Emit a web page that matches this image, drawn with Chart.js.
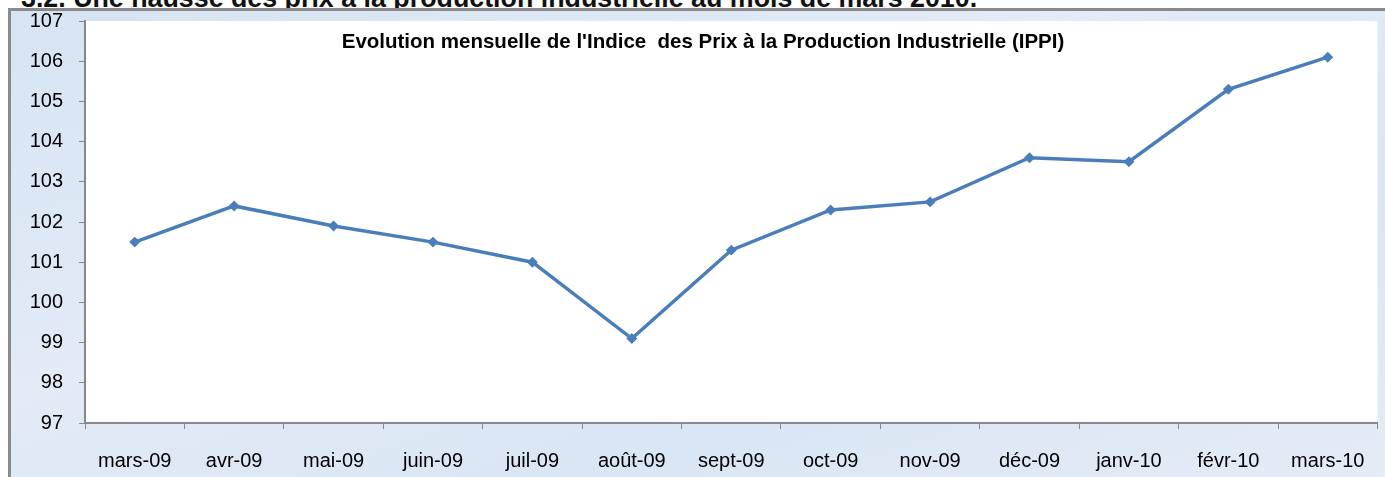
<!DOCTYPE html>
<html>
<head>
<meta charset="utf-8">
<script src="https://cdn.jsdelivr.net/npm/chart.js@4/dist/chart.umd.min.js"></script>
<style>
  html, body { margin: 0; padding: 0; background: #fff; overflow: hidden; }
  body { width: 1385px; height: 477px; position: relative; font-family: "Liberation Sans", Arial, sans-serif; }
  #heading { position: absolute; left: 21px; top: -15px; font-size: 26.8px; line-height: 26.5px; font-weight: bold; color: #111; white-space: nowrap; }
  #frame { position: absolute; left: 8px; top: 8px; width: 1374px; height: 466px;
    border-top: 3px solid #8a8a8a; border-left: 3px solid #8a8a8a;
    background: linear-gradient(160deg, #d6e4f3 0%, #e2ebf6 40%, #d9e6f3 70%, #e4ecf6 100%); }
  #wrap { position: absolute; left: 0; top: 0; width: 1374px; height: 466px; }
</style>
</head>
<body>
<div id="heading">3.2. Une hausse des prix à la production industrielle au mois de mars 2010.</div>
<div id="frame"><div id="wrap"><canvas id="app"></canvas></div></div>
<script>
const months = ['mars-09', 'avr-09', 'mai-09', 'juin-09', 'juil-09', 'août-09', 'sept-09',
  'oct-09', 'nov-09', 'déc-09', 'janv-10', 'févr-10', 'mars-10']
const ippi = [101.5, 102.4, 101.9, 101.5, 101.0, 99.1, 101.3, 102.3, 102.5, 103.6, 103.5, 105.3, 106.1]
const chartTitle = "Evolution mensuelle de l'Indice  des Prix à la Production Industrielle (IPPI)"
const yMin = 97
const yMax = 107

const plotBackground = {
  id: 'plotBackground',
  beforeDraw(chart) {
    const { ctx, chartArea: a } = chart
    ctx.save()
    ctx.fillStyle = '#fff'
    ctx.fillRect(a.left, a.top, a.right - a.left, a.bottom - a.top)
    ctx.restore()
  },
  afterDatasetsDraw(chart) {
    const { ctx, chartArea: a } = chart
    ctx.save()
    ctx.font = 'bold 20.5px "Liberation Sans", Arial, sans-serif'
    ctx.fillStyle = '#000'
    ctx.textAlign = 'center'
    ctx.textBaseline = 'alphabetic'
    ctx.fillText(chartTitle, 692, a.top + 27)
    ctx.restore()
  }
}

new Chart(document.getElementById('app'), {
  type: 'line',
  data: {
    labels: months,
    datasets: [{
      data: ippi,
      borderColor: '#4a7ebb',
      backgroundColor: '#4a7ebb',
      borderWidth: 3.5,
      pointStyle: 'rectRot',
      pointRadius: 3,
      tension: 0
    }]
  },
  options: {
    responsive: true,
    maintainAspectRatio: false,
    animation: false,
    layout: { padding: { top: 10, right: 4, left: 0, bottom: 0 } },
    plugins: { legend: { display: false }, tooltip: { enabled: false }, title: { display: false } },
    scales: {
      x: {
        offset: true,
        grid: { offset: true, drawOnChartArea: false, tickLength: 6, color: '#888', lineWidth: 1 },
        border: { color: '#888', width: 2 },
        ticks: { color: '#000', font: { size: 20, family: '"Liberation Sans", Arial, sans-serif' }, padding: 20, maxRotation: 0, autoSkip: false },
        afterFit(s) { s.height = 54; s.paddingLeft = 0; s.paddingRight = 0 }
      },
      y: {
        min: yMin,
        max: yMax,
        grid: { drawOnChartArea: false, tickLength: 6, color: '#888', lineWidth: 1 },
        border: { color: '#888', width: 2 },
        ticks: { stepSize: 1, color: '#000', font: { size: 20, family: '"Liberation Sans", Arial, sans-serif' }, padding: 16 },
        afterFit(s) { s.width = 74; s.paddingTop = 0; s.paddingBottom = 0 }
      }
    }
  },
  plugins: [plotBackground]
})
</script>
</body>
</html>
